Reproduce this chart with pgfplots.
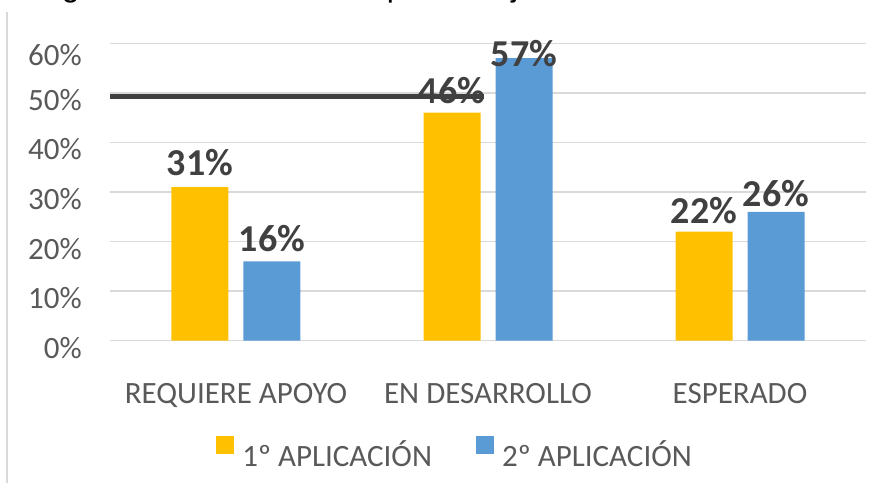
\documentclass[border=0pt]{standalone}
\usepackage{pgfplots}
\usepackage{pgfplotstable}
\pgfplotsset{compat=1.18}
\usepackage{fontspec}
\setmainfont{Carlito}
\newfontfamily\titlefont{Liberation Sans}
\definecolor{cyel}{HTML}{FFC000}
\definecolor{cblu}{HTML}{5B9BD5}
\definecolor{cgrid}{HTML}{D9D9D9}
\definecolor{ctick}{HTML}{595959}
\definecolor{clab}{HTML}{404040}

\pgfplotstableread{
x y dy
0 31 12
1 46 8.7
2 22 8.6
}\first
\pgfplotstableread{
x y dy
0 16 10
1 57 -8.6
2 26 5
}\second

\begin{document}
\begin{tikzpicture}[x=1pt,y=1pt]
\useasboundingbox (-110,-142.3) rectangle (774,340.7);
\draw[cgrid, line width=1.5pt] (-103,-142.3) -- (-103,328.7);
\node[anchor=base west, inner sep=0pt, outer sep=0pt, font=\titlefont\fontsize{32}{38}\selectfont] at (-74.7,344.5) {Figura 3. Resultados en porcentaje de la tarea de escritura};
\begin{axis}[
  at={(0,0)}, anchor=south west,
  scale only axis, width=756pt, height=297.4pt,
  xmin=-0.5, xmax=2.5, ymin=0, ymax=60,
  axis line style={draw=none},
  ymajorgrids, grid style={cgrid, line width=1.5pt},
  ytick={0,10,20,30,40,50,60},
  yticklabels={0\%,10\%,20\%,30\%,40\%,50\%,\raisebox{-5pt}[\height][\depth]{60\%}},
  xtick={0,1,2},
  xticklabels={REQUIERE APOYO, EN DESARROLLO, ESPERADO},
  major tick length=0pt,
  tick label style={font=\fontsize{31}{37}\selectfont, text=ctick, inner sep=0pt},
  yticklabel style={anchor=east, xshift=-28pt, yshift=-7pt},
  xticklabel style={anchor=base, yshift=-62.3pt},
  clip=false,
  legend columns=2,
  legend style={at={(0.1402,-0.3786)}, anchor=west, draw=none, fill=none,
    inner sep=0pt, font=\fontsize{31}{37}\selectfont, text=ctick,
    nodes={inner sep=0pt},
    /tikz/every odd column/.append style={column sep=8.4pt},
    /tikz/every even column/.append style={column sep=44pt}},
]
\addplot[ybar, bar width=57pt, bar shift=-36pt, fill=cyel, draw=none,
  legend image code/.code={\path[draw=none,fill=none] (0pt,-16.6pt) rectangle (0.1pt,0pt); \fill[cyel] (0pt,0pt) rectangle (17.7pt,17.7pt);},
  visualization depends on={\thisrow{dy}\as\dy},
  nodes near coords={\pgfmathprintnumber[fixed,precision=0,assume math mode=true]{\pgfplotspointmeta}\%},
  every node near coord/.append style={anchor=base, xshift=-36pt, yshift=\dy pt, inner sep=0pt,
    font=\bfseries\fontsize{38}{44}\selectfont, text=clab}]
  table[x=x,y=y]{\first};
\addlegendentry{1º APLICACIÓN}
\addplot[ybar, bar width=57pt, bar shift=36pt, fill=cblu, draw=none,
  legend image code/.code={\path[draw=none,fill=none] (0pt,-16.6pt) rectangle (0.1pt,0pt); \fill[cblu] (0pt,0pt) rectangle (17.7pt,17.7pt);},
  visualization depends on={\thisrow{dy}\as\dy},
  nodes near coords={\pgfmathprintnumber[fixed,precision=0,assume math mode=true]{\pgfplotspointmeta}\%},
  every node near coord/.append style={anchor=base, xshift=36pt, yshift=\dy pt, inner sep=0pt,
    font=\bfseries\fontsize{38}{44}\selectfont, text=clab}]
  table[x=x,y=y]{\second};
\addlegendentry{2º APLICACIÓN}
\addplot[forget plot, sharp plot, draw=clab, line width=4.5pt]
  coordinates {(-0.5,49.25) (0.985,49.25)};
\end{axis}
\end{tikzpicture}
\end{document}
